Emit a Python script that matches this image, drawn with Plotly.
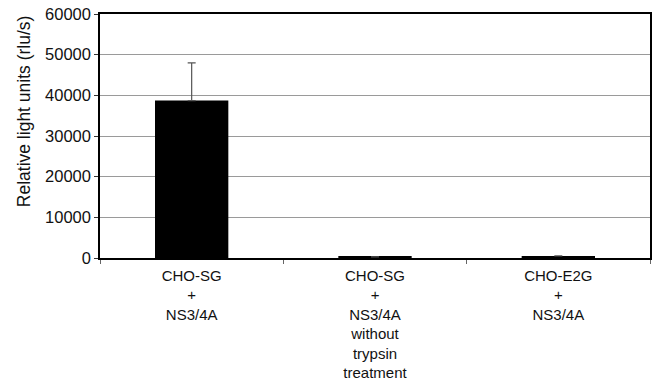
import plotly.graph_objects as go

categories = ["CHO-SG<br>+<br>NS3/4A",
              "CHO-SG<br>+<br>NS3/4A<br>without<br>trypsin<br>treatment",
              "CHO-E2G<br>+<br>NS3/4A"]
values = [38700, 300, 500]
errors_plus = [9300, 0, 0]
y_ticks = [0, 10000, 20000, 30000, 40000, 50000, 60000]
y_title = "Relative light units (rlu/s)"

fam = "Liberation Sans, Arial, Helvetica, sans-serif"
fnt = dict(family=fam, size=16.5, color="#111111")
xfnt = dict(family=fam, size=15, color="#111111")
tfnt = dict(family=fam, size=17.5, color="#111111")

fig = go.Figure()
fig.add_trace(go.Bar(
    x=categories, y=values,
    marker=dict(color="black", line=dict(color="black", width=0)),
    width=0.40,
    error_y=dict(type="data", symmetric=False, array=errors_plus,
                 arrayminus=[0, 0, 0], color="#555555", thickness=1.2, width=4),
))

fig.update_layout(
    width=656, height=384,
    margin=dict(l=100, r=6, t=14, b=126),
    paper_bgcolor="white", plot_bgcolor="white",
    showlegend=False, font=fnt, bargap=0.6,
    xaxis=dict(type="category", tickson="boundaries", ticks="outside", ticklen=4,
               tickcolor="#666666", showgrid=False, showline=True, linecolor="black",
               linewidth=1.5, mirror=True, tickfont=xfnt, automargin=False,
               ticklabelstandoff=3),
    yaxis=dict(range=[0, 60000], tickvals=y_ticks, ticktext=[str(v) for v in y_ticks],
               ticks="outside", ticklen=4, tickcolor="#333333",
               showgrid=True, gridcolor="#9a9a9a", gridwidth=1,
               showline=True, linecolor="black", linewidth=1.5, mirror=True,
               zeroline=False, tickfont=fnt, automargin=False),
)
fig.add_annotation(text=y_title, textangle=-90, xref="paper", yref="paper",
                   x=-0.138, y=0.602, xanchor="center", yanchor="middle",
                   showarrow=False, font=tfnt)
fig.write_html("out.html", config={"displayModeBar": False},
               post_script="document.body.style.margin='0';document.body.style.overflow='hidden';")
